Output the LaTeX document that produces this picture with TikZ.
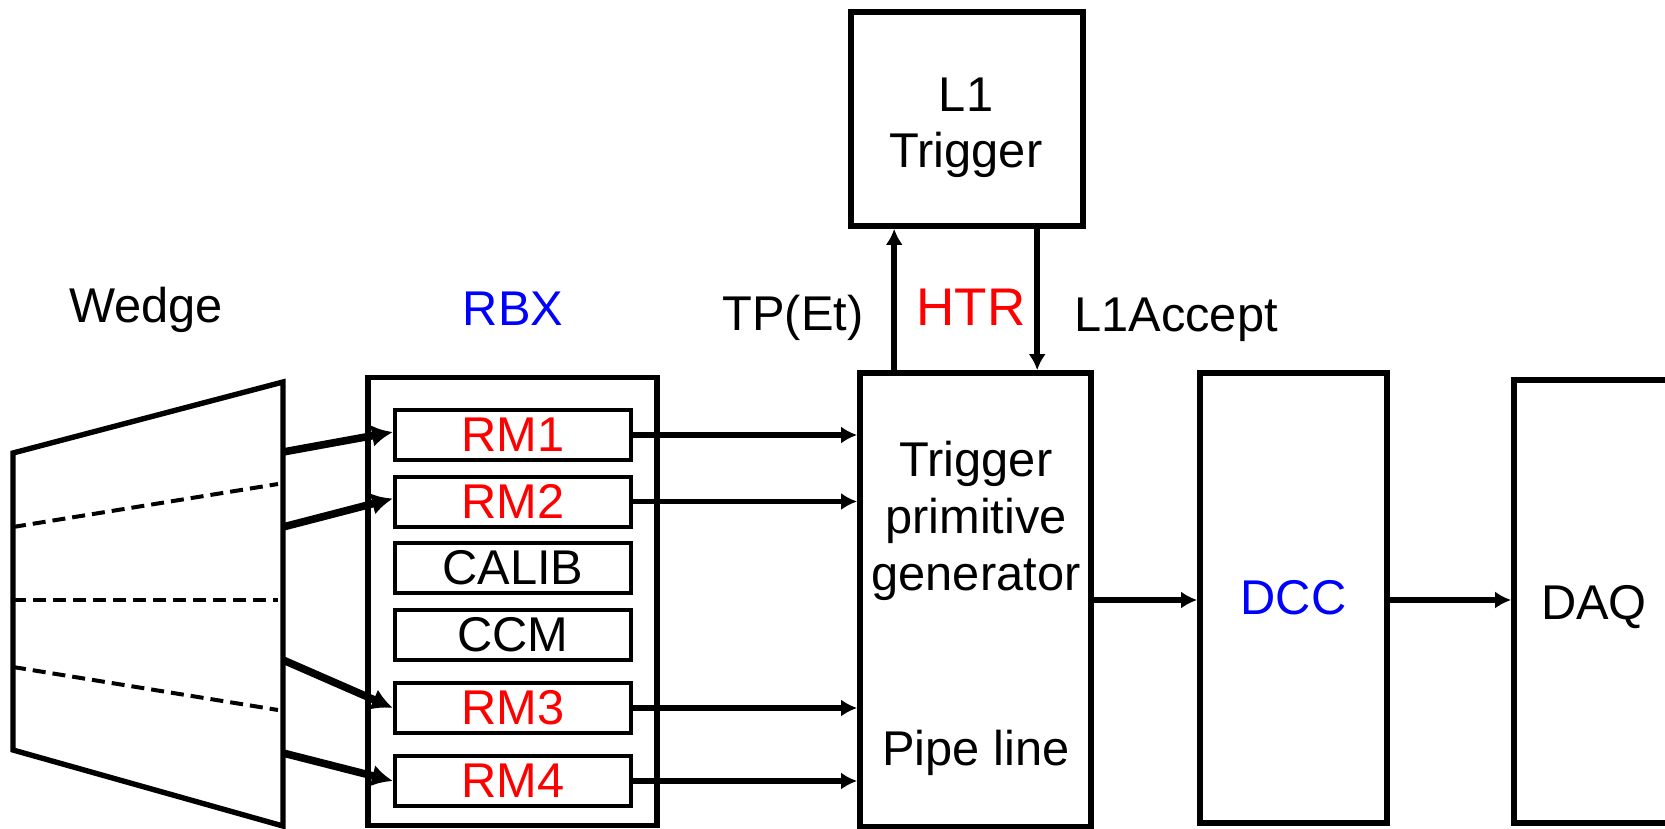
\documentclass[tikz,border=0pt]{standalone}
\usepackage{fontspec}
\setmainfont{Liberation Sans}
\usetikzlibrary{arrows.meta}
\begin{document}
\begin{tikzpicture}[x=0.5pt,y=-0.5pt,
  every node/.style={font=\fontsize{24.4}{29}\selectfont},
  box/.style={draw, line width=2.8pt, inner sep=0pt},
  rmbox/.style={draw, line width=2pt, inner sep=0pt, minimum width=118pt, minimum height=25pt},
  sig/.style={line width=2.8pt, -{Latex[length=8pt,width=8.5pt]}},
  feed/.style={line width=3.8pt, -{Latex[length=10.5pt,width=11pt]}},
  txt/.style={anchor=base, inner sep=0pt},
  dashline/.style={line width=2pt, dash pattern=on 6.5pt off 3.5pt}
]
\useasboundingbox (0,0) rectangle (1665,829);
\clip (0,0) rectangle (1665,829);

% wedge
\coordinate (wtl) at (13,453);
\coordinate (wtr) at (283,382);
\coordinate (wbr) at (283,826);
\coordinate (wbl) at (13,750);
\draw[line width=2.7pt, line join=miter] (wtl) -- (wtr) -- (wbr) -- (wbl) -- cycle;
\coordinate (d1a) at (13,527); \coordinate (d1b) at (278,484);
\coordinate (d2a) at (13,600); \coordinate (d2b) at (278,600);
\coordinate (d3a) at (13,667); \coordinate (d3b) at (278,710);
\draw[dashline] (d1a) -- (d1b);
\draw[dashline] (d2a) -- (d2b);
\draw[dashline] (d3a) -- (d3b);

% RBX
\node[box, line width=2.6pt, minimum width=144.5pt, minimum height=224pt] (rbx) at (512.5,601.5) {};
\node[rmbox, text=red] (rm1) at (513,435) {RM1};
\node[rmbox, text=red] (rm2) at (513,501.5) {RM2};
\node[rmbox] (calib) at (513,568) {CALIB};
\node[rmbox] (ccm) at (513,634.5) {CCM};
\node[rmbox, text=red] (rm3) at (513,708) {RM3};
\node[rmbox, text=red] (rm4) at (513,781) {RM4};

% HTR boxes
\node[box, minimum width=115.5pt, minimum height=227pt] (tpg) at (975.5,600) {};
\node[box, minimum width=116pt, minimum height=107pt] (l1) at (967,119) {};
\node[box, minimum width=93.5pt, minimum height=225pt, text=blue] (dcc) at (1293.5,598) {DCC};
\node[box, minimum width=123pt, minimum height=221.5pt] (daq) at (1637,601.5) {};

% feeds from wedge
\coordinate (w1) at (283,452);
\coordinate (w2) at (283,527);
\coordinate (w3) at (283,660);
\coordinate (w4) at (283,753);
\draw[feed] (w1) -- ([yshift=1.5pt]rm1.west);
\draw[feed] (w2) -- ([yshift=1.5pt]rm2.west);
\draw[feed] (w3) -- (rm3.west);
\draw[feed] (w4) -- (rm4.west);

% RM to TPG
\draw[sig] (rm1.east) -- (rm1.east -| tpg.west);
\draw[sig] (rm2.east) -- (rm2.east -| tpg.west);
\draw[sig] (rm3.east) -- (rm3.east -| tpg.west);
\draw[sig] (rm4.east) -- (rm4.east -| tpg.west);

% trigger arrows
\draw[sig] ([xshift=18.5pt]tpg.north west) -- ([xshift=18.5pt]tpg.north west |- l1.south);
\draw[sig] ([xshift=94.5pt]l1.south west) -- ([xshift=94.5pt]l1.south west |- tpg.north);

% chain
\draw[sig] (tpg.east) -- (tpg.east -| dcc.west);
\draw[sig] (dcc.east |- tpg.east) -- (tpg.east -| daq.west);

% labels
\node[txt] (wedge) at (146,322) {Wedge};
\node[txt, text=blue] (rbxlabel) at (513,325) {RBX};
\node[txt] (tp) at (793,330) {TP(Et)};
\node[txt, text=red, font=\fontsize{26.5}{31}\selectfont] (htr) at (971,325) {HTR};
\node[txt] (l1a) at (1176,331) {L1Accept};
\node[txt] (l1t1) at (966,112) {L1};
\node[txt] (l1t2) at (966,168) {Trigger};
\node[txt] (tpg1) at (976,476) {Trigger};
\node[txt] (tpg2) at (976,533) {primitive};
\node[txt] (tpg3) at (976,590) {generator};
\node[txt] (tpg4) at (976,765) {Pipe line};
\node[txt] (daqtext) at (1594,619) {DAQ};
\end{tikzpicture}
\end{document}
